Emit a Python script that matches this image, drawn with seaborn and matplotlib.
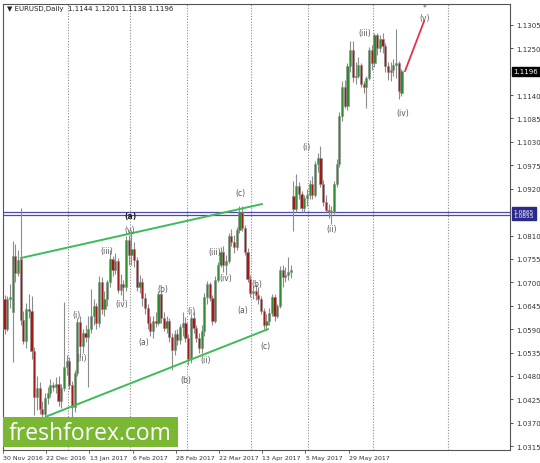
import matplotlib
matplotlib.use("Agg")
import matplotlib.pyplot as plt
from matplotlib.patches import Rectangle
import numpy as np
import seaborn as sns

# ---- data ----
date_labels = ["30 Nov 2016", "22 Dec 2016", "13 Jan 2017", "6 Feb 2017", "28 Feb 2017",
               "22 Mar 2017", "13 Apr 2017", "5 May 2017", "29 May 2017"]
date_idx = [0, 16, 32, 48, 64, 80, 96, 112, 128]

opens = [1.0660, 1.0590, 1.0660, 1.0630, 1.0762, 1.0722, 1.0755, 1.0612, 1.0562, 1.0638,
         1.0632, 1.0538, 1.0430, 1.0452, 1.0402, 1.0390, 1.0428, 1.0440, 1.0458, 1.0455,
         1.0462, 1.0420, 1.0452, 1.0500, 1.0515, 1.0458, 1.0408, 1.0487, 1.0606, 1.0550,
         1.0582, 1.0572, 1.0590, 1.0620, 1.0645, 1.0605, 1.0700, 1.0637, 1.0660, 1.0700,
         1.0755, 1.0730, 1.0750, 1.0682, 1.0695, 1.0690, 1.0800, 1.0765, 1.0778, 1.0752,
         1.0690, 1.0700, 1.0662, 1.0640, 1.0605, 1.0585, 1.0610, 1.0605, 1.0672, 1.0615,
         1.0592, 1.0610, 1.0572, 1.0540, 1.0578, 1.0565, 1.0595, 1.0605, 1.0570, 1.0520,
         1.0615, 1.0592, 1.0568, 1.0545, 1.0585, 1.0665, 1.0695, 1.0662, 1.0610, 1.0705,
         1.0740, 1.0772, 1.0740, 1.0750, 1.0808, 1.0795, 1.0782, 1.0822, 1.0865, 1.0828,
         1.0772, 1.0708, 1.0676, 1.0680, 1.0670, 1.0660, 1.0632, 1.0600, 1.0610, 1.0628,
         1.0665, 1.0622, 1.0645, 1.0730, 1.0712, 1.0718, 1.0725, 1.0903, 1.0872, 1.0926,
         1.0907, 1.0875, 1.0898, 1.0905, 1.0930, 1.0905, 1.0978, 1.0993, 1.0932, 1.0888,
         1.0870, 1.0868, 1.0865, 1.0932, 1.0978, 1.1090, 1.1160, 1.1115, 1.1208, 1.1245,
         1.1182, 1.1185, 1.1210, 1.1165, 1.1160, 1.1180, 1.1245, 1.1215, 1.1280, 1.1250,
         1.1272, 1.1255, 1.1208, 1.1195, 1.1200, 1.1210, 1.1215, 1.1144]
highs = [1.0670, 1.0668, 1.0695, 1.0797, 1.0790, 1.0775, 1.0875, 1.0632, 1.0652, 1.0672,
         1.0668, 1.0548, 1.0480, 1.0465, 1.0420, 1.0440, 1.0455, 1.0472, 1.0465, 1.0478,
         1.0480, 1.0460, 1.0653, 1.0530, 1.0525, 1.0468, 1.0495, 1.0615, 1.0620, 1.0590,
         1.0600, 1.0620, 1.0684, 1.0660, 1.0652, 1.0715, 1.0712, 1.0680, 1.0705, 1.0775,
         1.0762, 1.0768, 1.0758, 1.0720, 1.0705, 1.0810, 1.0812, 1.0822, 1.0795, 1.0760,
         1.0718, 1.0710, 1.0675, 1.0650, 1.0620, 1.0620, 1.0630, 1.0680, 1.0680, 1.0630,
         1.0622, 1.0615, 1.0580, 1.0588, 1.0590, 1.0602, 1.0630, 1.0618, 1.0578, 1.0625,
         1.0630, 1.0600, 1.0580, 1.0600, 1.0675, 1.0702, 1.0700, 1.0670, 1.0715, 1.0748,
         1.0782, 1.0785, 1.0765, 1.0815, 1.0825, 1.0812, 1.0830, 1.0880, 1.0880, 1.0835,
         1.0780, 1.0718, 1.0692, 1.0695, 1.0688, 1.0668, 1.0640, 1.0625, 1.0640, 1.0672,
         1.0672, 1.0650, 1.0738, 1.0740, 1.0735, 1.0760, 1.0740, 1.0938, 1.0954, 1.0935,
         1.0915, 1.0905, 1.0920, 1.0940, 1.0950, 1.0985, 1.1005, 1.1020, 1.0940, 1.0905,
         1.0885, 1.0880, 1.0938, 1.0990, 1.1100, 1.1172, 1.1175, 1.1215, 1.1268, 1.1268,
         1.1218, 1.1230, 1.1215, 1.1172, 1.1185, 1.1252, 1.1258, 1.1285, 1.1285, 1.1282,
         1.1285, 1.1262, 1.1218, 1.1218, 1.1225, 1.1296, 1.1220, 1.1201]
lows = [1.0578, 1.0585, 1.0640, 1.0512, 1.0700, 1.0715, 1.0600, 1.0556, 1.0545, 1.0615,
        1.0520, 1.0388, 1.0400, 1.0390, 1.0365, 1.0382, 1.0415, 1.0430, 1.0445, 1.0440,
        1.0410, 1.0405, 1.0445, 1.0482, 1.0450, 1.0370, 1.0395, 1.0480, 1.0525, 1.0535,
        1.0560, 1.0455, 1.0580, 1.0600, 1.0590, 1.0595, 1.0625, 1.0620, 1.0645, 1.0690,
        1.0715, 1.0720, 1.0675, 1.0670, 1.0655, 1.0680, 1.0740, 1.0740, 1.0735, 1.0680,
        1.0675, 1.0645, 1.0625, 1.0590, 1.0575, 1.0570, 1.0595, 1.0600, 1.0605, 1.0585,
        1.0580, 1.0560, 1.0494, 1.0530, 1.0552, 1.0555, 1.0575, 1.0560, 1.0505, 1.0510,
        1.0580, 1.0560, 1.0535, 1.0535, 1.0575, 1.0650, 1.0655, 1.0600, 1.0605, 1.0700,
        1.0735, 1.0725, 1.0718, 1.0745, 1.0785, 1.0770, 1.0775, 1.0815, 1.0820, 1.0765,
        1.0700, 1.0665, 1.0660, 1.0658, 1.0650, 1.0625, 1.0590, 1.0588, 1.0600, 1.0620,
        1.0610, 1.0615, 1.0640, 1.0690, 1.0700, 1.0705, 1.0710, 1.0821, 1.0865, 1.0895,
        1.0868, 1.0865, 1.0880, 1.0895, 1.0895, 1.0900, 1.0960, 1.0925, 1.0880, 1.0862,
        1.0852, 1.0838, 1.0860, 1.0925, 1.0970, 1.1080, 1.1110, 1.1105, 1.1195, 1.1170,
        1.1165, 1.1180, 1.1160, 1.1145, 1.1110, 1.1175, 1.1200, 1.1205, 1.1235, 1.1242,
        1.1240, 1.1195, 1.1175, 1.1172, 1.1185, 1.1180, 1.1131, 1.1138]
closes = [1.0590, 1.0660, 1.0665, 1.0762, 1.0722, 1.0752, 1.0612, 1.0562, 1.0638, 1.0632,
          1.0538, 1.0430, 1.0452, 1.0402, 1.0390, 1.0428, 1.0440, 1.0458, 1.0455, 1.0462,
          1.0420, 1.0452, 1.0500, 1.0515, 1.0458, 1.0408, 1.0487, 1.0606, 1.0550, 1.0582,
          1.0572, 1.0590, 1.0620, 1.0645, 1.0605, 1.0700, 1.0637, 1.0660, 1.0700, 1.0755,
          1.0730, 1.0750, 1.0682, 1.0695, 1.0690, 1.0800, 1.0765, 1.0778, 1.0752, 1.0690,
          1.0700, 1.0662, 1.0640, 1.0605, 1.0585, 1.0610, 1.0605, 1.0672, 1.0615, 1.0592,
          1.0610, 1.0572, 1.0540, 1.0578, 1.0565, 1.0595, 1.0605, 1.0570, 1.0520, 1.0615,
          1.0592, 1.0568, 1.0545, 1.0585, 1.0665, 1.0695, 1.0662, 1.0610, 1.0705, 1.0740,
          1.0772, 1.0740, 1.0750, 1.0808, 1.0795, 1.0782, 1.0822, 1.0865, 1.0828, 1.0772,
          1.0708, 1.0676, 1.0680, 1.0670, 1.0660, 1.0632, 1.0600, 1.0610, 1.0628, 1.0665,
          1.0622, 1.0645, 1.0730, 1.0712, 1.0718, 1.0725, 1.0728, 1.0872, 1.0926, 1.0907,
          1.0875, 1.0898, 1.0905, 1.0930, 1.0905, 1.0978, 1.0993, 1.0932, 1.0888, 1.0870,
          1.0868, 1.0865, 1.0932, 1.0978, 1.1090, 1.1160, 1.1115, 1.1208, 1.1245, 1.1182,
          1.1185, 1.1210, 1.1165, 1.1160, 1.1180, 1.1245, 1.1215, 1.1280, 1.1250, 1.1272,
          1.1255, 1.1208, 1.1195, 1.1200, 1.1210, 1.1215, 1.1150, 1.1196]

price_ticks = [1.0315, 1.0370, 1.0425, 1.0480, 1.0535, 1.0590, 1.0645, 1.0700, 1.0755,
               1.0810, 1.0920, 1.0975, 1.1030, 1.1085, 1.1140, 1.1250, 1.1305]
grid_idx = [23.5, 46.5, 67.6, 91.3, 112.4, 136.5, 164.3]
levels = [1.0866, 1.0858]

upper_x, upper_y = [6.0, 95.4], [1.0757, 1.0884]
lower_x, lower_y = [15.6, 97.6], [1.0385, 1.0590]
proj_x, proj_y = [148.3, 155.4], [1.1196, 1.1314]

wave_text = ["(a)", "(v)", "(iii)", "(iv)", "(i)", "(ii)", "(b)", "(a)", "(b)", "(i)", "(ii)",
             "(iii)", "(iv)", "(c)", "(b)", "(a)", "(c)", "(i)", "(ii)", "(iii)", "(iv)", "(v)", "*"]
wave_x = [46.5, 46.5, 37.9, 43.4, 26.7, 28.6, 58.7, 51.7, 67.2, 69.3, 74.6,
          78.0, 82.0, 87.2, 93.4, 88.2, 96.5, 112.0, 121.2, 133.5, 147.5, 155.7, 155.7]
wave_y = [1.0856, 1.0823, 1.0774, 1.0651, 1.0625, 1.0524, 1.0686, 1.0560, 1.0471, 1.0633, 1.0519,
          1.0772, 1.0712, 1.0910, 1.0698, 1.0635, 1.0551, 1.1018, 1.0827, 1.1286, 1.1098, 1.1323, 1.1345]

# ---- figure ----
sns.set_style("white")
plt.rcParams['font.family'] = ['DejaVu Sans']

fig = plt.figure(figsize=(5.4, 4.64), dpi=100)
ax = fig.add_axes([3 / 540, 1 - 451 / 464, 507 / 540, 446 / 464])

idx = np.arange(len(closes))
o = np.array(opens)
c = np.array(closes)
up = c >= o

for g in grid_idx:
    ax.axvline(g, color="#8a8a8a", lw=0.8, ls=(0, (1, 1.5)), zorder=0)

ax.vlines(idx, lows, highs, color="#8c8c8c", lw=0.8, zorder=2)
body_lo = np.minimum(o, c)
body_h = np.maximum(np.abs(c - o), 0.00015)
ax.bar(idx[up], body_h[up], bottom=body_lo[up], width=0.8, color="#2e8b2e",
       edgecolor="#8c8c8c", lw=0.4, zorder=3)
ax.bar(idx[~up], body_h[~up], bottom=body_lo[~up], width=0.8, color="#a31818",
       edgecolor="#8c8c8c", lw=0.4, zorder=3)

for lv in levels:
    ax.axhline(lv, color="#4b4ba8", lw=0.9, zorder=1)

sns.lineplot(x=upper_x, y=upper_y, color="#3dbb5a", lw=1.4, ax=ax, zorder=4)
sns.lineplot(x=lower_x, y=lower_y, color="#3dbb5a", lw=1.4, ax=ax, zorder=4)
sns.lineplot(x=proj_x, y=proj_y, color="#e8304a", lw=1.3, ax=ax, zorder=4)

for t, x, y in zip(wave_text, wave_x, wave_y):
    bold = (t == "(a)" and y > 1.085)
    ax.text(x, y, t, ha="center", va="center", fontsize=5.5,
            color="#222222" if bold else "#555555",
            fontweight="bold" if bold else "normal", zorder=5)

ax.set_xlim(-0.56, 187.2)
ax.set_ylim(1.0306, 1.1354)

ax.yaxis.tick_right()
ax.set_yticks(price_ticks)
ax.set_yticklabels([f"{p:.4f}" for p in price_ticks])
ax.tick_params(axis="y", labelsize=5, length=2.5, width=0.6, pad=2, colors="#333333", right=True)
ax.set_xticks([])
for s in ax.spines.values():
    s.set_color("#555555")
    s.set_linewidth(0.8)

# date labels
for d, i in zip(date_labels, date_idx):
    ax.text(i - 0.5, -0.012, d, transform=ax.get_xaxis_transform(), ha="left", va="top",
            fontsize=4.5, color="#333333")
    ax.plot([i - 0.6, i - 0.6], [0, -0.006], transform=ax.get_xaxis_transform(),
            color="#555555", lw=0.6, clip_on=False)

# highlighted price boxes on the right
ax.text(1.007, closes[-1], f"{closes[-1]:.4f}", transform=ax.get_yaxis_transform(),
        ha="left", va="center", fontsize=5, color="white",
        bbox=dict(boxstyle="square,pad=0.25", fc="black", ec="black"))
ax.text(1.007, sum(levels) / 2, "1.0865\n1.0855", transform=ax.get_yaxis_transform(),
        ha="left", va="center", fontsize=4.2, color="white", linespacing=0.9,
        bbox=dict(boxstyle="square,pad=0.25", fc="#2a2a8e", ec="#2a2a8e"))

# header
fig.text(7 / 540, 1 - 9 / 464, "\u25bc EURUSD,Daily  1.1144 1.1201 1.1138 1.1196",
         fontsize=5, color="#222222", va="center", ha="left")

# watermark logo
fig.add_artist(Rectangle((3 / 540, 1 - 448 / 464), 175 / 540, 30 / 464,
                         transform=fig.transFigure, facecolor="#7ab733",
                         edgecolor="none", zorder=10))
fig.text(90 / 540, 1 - 434 / 464, "freshforex.com", fontsize=16.5, color="white",
         ha="center", va="center", family=["Open Sans", "DejaVu Sans"], zorder=11)

fig.savefig("out.png", dpi=100)
